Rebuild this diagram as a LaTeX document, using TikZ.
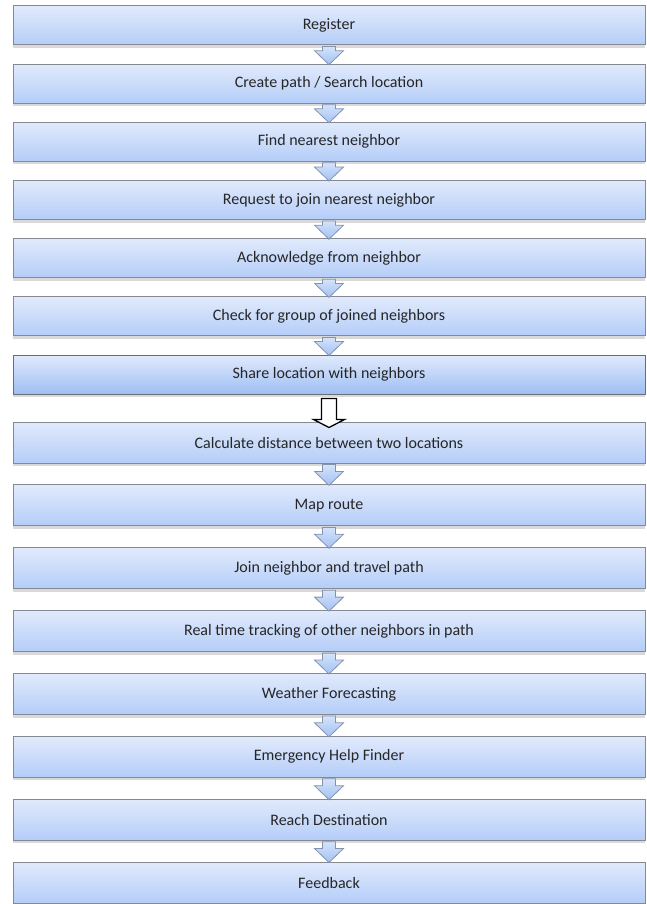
\documentclass[tikz,border=0pt]{standalone}
\usepackage{fontspec}
\setmainfont{Carlito}
\usetikzlibrary{shadows}
\definecolor{StepTop}{RGB}{225,234,252}
\definecolor{StepBottom}{RGB}{180,205,248}
\definecolor{StepDeep}{RGB}{158,190,244}
\definecolor{StepLine}{RGB}{132,137,148}
\definecolor{FlowTop}{RGB}{212,227,251}
\definecolor{FlowBottom}{RGB}{162,193,243}
\definecolor{FlowLine}{RGB}{132,146,172}

\begin{document}
\begin{tikzpicture}[x=1pt,y=-1pt]
			\useasboundingbox (0,0) rectangle (646,904);
			\tikzstyle{every node}=[draw=StepLine, line width=1pt, shape=rectangle, minimum width=632pt, minimum height=39pt, top color=StepTop, bottom color=StepBottom, text=black!85, font=\fontsize{16}{19}\selectfont, drop shadow={shadow xshift=0pt, shadow yshift=-3pt, opacity=0.3}];
			\tikzstyle{flow}=[draw=FlowLine, line width=0.8pt, top color=FlowTop, bottom color=FlowBottom];
			\tikzstyle{split}=[draw=black, line width=1.3pt, fill=white];
			% first part of the flow
			\node (register) at (329, 25.5) {Register};
			\node (path) at (329, 83.7) {Create path / Search location};
			\node (nearest) at (329, 141.8) {Find nearest neighbor};
			\node (request) at (329, 200.0) {Request to join nearest neighbor};
			\node (ack) at (329, 258.2) {Acknowledge from neighbor};
			\node (group) at (329, 316.4) {Check for group of joined neighbors};
			\node [bottom color=StepDeep, draw=StepLine!80!black] (share) at (329, 374.5) {Share location with neighbors};
			% second part of the flow
			\node [minimum height=41pt] (distance) at (329, 442.5) {Calculate distance between two locations};
			\node [minimum height=41pt] (route) at (329, 505.4) {Map route};
			\node [minimum height=41pt] (travel) at (329, 568.2) {Join neighbor and travel path};
			\node [minimum height=41pt] (tracking) at (329, 631.1) {Real time tracking of other neighbors in path};
			\node [minimum height=41pt] (weather) at (329, 694.0) {Weather Forecasting};
			\node [minimum height=41pt] (help) at (329, 756.8) {Emergency Help Finder};
			\node [minimum height=41pt] (reach) at (329, 819.7) {Reach Destination};
			\node [minimum height=41pt] (feedback) at (329, 882.5) {Feedback};
			% arrows
			\draw[flow] ([xshift=-6.5pt,yshift=-1pt]register.south) -- ([xshift=-6.5pt,yshift=13pt]path.north) -- ([xshift=-14.5pt,yshift=13pt]path.north) -- ([yshift=-1pt]path.north) -- ([xshift=14.5pt,yshift=13pt]path.north) -- ([xshift=6.5pt,yshift=13pt]path.north) -- ([xshift=6.5pt,yshift=-1pt]register.south) -- cycle;
			\draw[flow] ([xshift=-6.5pt,yshift=-1pt]path.south) -- ([xshift=-6.5pt,yshift=13pt]nearest.north) -- ([xshift=-14.5pt,yshift=13pt]nearest.north) -- ([yshift=-1pt]nearest.north) -- ([xshift=14.5pt,yshift=13pt]nearest.north) -- ([xshift=6.5pt,yshift=13pt]nearest.north) -- ([xshift=6.5pt,yshift=-1pt]path.south) -- cycle;
			\draw[flow] ([xshift=-6.5pt,yshift=-1pt]nearest.south) -- ([xshift=-6.5pt,yshift=13pt]request.north) -- ([xshift=-14.5pt,yshift=13pt]request.north) -- ([yshift=-1pt]request.north) -- ([xshift=14.5pt,yshift=13pt]request.north) -- ([xshift=6.5pt,yshift=13pt]request.north) -- ([xshift=6.5pt,yshift=-1pt]nearest.south) -- cycle;
			\draw[flow] ([xshift=-6.5pt,yshift=-1pt]request.south) -- ([xshift=-6.5pt,yshift=13pt]ack.north) -- ([xshift=-14.5pt,yshift=13pt]ack.north) -- ([yshift=-1pt]ack.north) -- ([xshift=14.5pt,yshift=13pt]ack.north) -- ([xshift=6.5pt,yshift=13pt]ack.north) -- ([xshift=6.5pt,yshift=-1pt]request.south) -- cycle;
			\draw[flow] ([xshift=-6.5pt,yshift=-1pt]ack.south) -- ([xshift=-6.5pt,yshift=13pt]group.north) -- ([xshift=-14.5pt,yshift=13pt]group.north) -- ([yshift=-1pt]group.north) -- ([xshift=14.5pt,yshift=13pt]group.north) -- ([xshift=6.5pt,yshift=13pt]group.north) -- ([xshift=6.5pt,yshift=-1pt]ack.south) -- cycle;
			\draw[flow] ([xshift=-6.5pt,yshift=-1pt]group.south) -- ([xshift=-6.5pt,yshift=13pt]share.north) -- ([xshift=-14.5pt,yshift=13pt]share.north) -- ([yshift=-1pt]share.north) -- ([xshift=14.5pt,yshift=13pt]share.north) -- ([xshift=6.5pt,yshift=13pt]share.north) -- ([xshift=6.5pt,yshift=-1pt]group.south) -- cycle;
			\draw[split] ([xshift=-7.5pt,yshift=-4pt]share.south) -- ([xshift=-7.5pt,yshift=2pt]distance.north) -- ([xshift=-15.5pt,yshift=2pt]distance.north) -- ([yshift=-6pt]distance.north) -- ([xshift=15.5pt,yshift=2pt]distance.north) -- ([xshift=7.5pt,yshift=2pt]distance.north) -- ([xshift=7.5pt,yshift=-4pt]share.south) -- cycle;
			\draw[flow] ([xshift=-6.5pt,yshift=-1pt]distance.south) -- ([xshift=-6.5pt,yshift=13pt]route.north) -- ([xshift=-14.5pt,yshift=13pt]route.north) -- ([yshift=-1pt]route.north) -- ([xshift=14.5pt,yshift=13pt]route.north) -- ([xshift=6.5pt,yshift=13pt]route.north) -- ([xshift=6.5pt,yshift=-1pt]distance.south) -- cycle;
			\draw[flow] ([xshift=-6.5pt,yshift=-1pt]route.south) -- ([xshift=-6.5pt,yshift=13pt]travel.north) -- ([xshift=-14.5pt,yshift=13pt]travel.north) -- ([yshift=-1pt]travel.north) -- ([xshift=14.5pt,yshift=13pt]travel.north) -- ([xshift=6.5pt,yshift=13pt]travel.north) -- ([xshift=6.5pt,yshift=-1pt]route.south) -- cycle;
			\draw[flow] ([xshift=-6.5pt,yshift=-1pt]travel.south) -- ([xshift=-6.5pt,yshift=13pt]tracking.north) -- ([xshift=-14.5pt,yshift=13pt]tracking.north) -- ([yshift=-1pt]tracking.north) -- ([xshift=14.5pt,yshift=13pt]tracking.north) -- ([xshift=6.5pt,yshift=13pt]tracking.north) -- ([xshift=6.5pt,yshift=-1pt]travel.south) -- cycle;
			\draw[flow] ([xshift=-6.5pt,yshift=-1pt]tracking.south) -- ([xshift=-6.5pt,yshift=13pt]weather.north) -- ([xshift=-14.5pt,yshift=13pt]weather.north) -- ([yshift=-1pt]weather.north) -- ([xshift=14.5pt,yshift=13pt]weather.north) -- ([xshift=6.5pt,yshift=13pt]weather.north) -- ([xshift=6.5pt,yshift=-1pt]tracking.south) -- cycle;
			\draw[flow] ([xshift=-6.5pt,yshift=-1pt]weather.south) -- ([xshift=-6.5pt,yshift=13pt]help.north) -- ([xshift=-14.5pt,yshift=13pt]help.north) -- ([yshift=-1pt]help.north) -- ([xshift=14.5pt,yshift=13pt]help.north) -- ([xshift=6.5pt,yshift=13pt]help.north) -- ([xshift=6.5pt,yshift=-1pt]weather.south) -- cycle;
			\draw[flow] ([xshift=-6.5pt,yshift=-1pt]help.south) -- ([xshift=-6.5pt,yshift=13pt]reach.north) -- ([xshift=-14.5pt,yshift=13pt]reach.north) -- ([yshift=-1pt]reach.north) -- ([xshift=14.5pt,yshift=13pt]reach.north) -- ([xshift=6.5pt,yshift=13pt]reach.north) -- ([xshift=6.5pt,yshift=-1pt]help.south) -- cycle;
			\draw[flow] ([xshift=-6.5pt,yshift=-1pt]reach.south) -- ([xshift=-6.5pt,yshift=13pt]feedback.north) -- ([xshift=-14.5pt,yshift=13pt]feedback.north) -- ([yshift=-1pt]feedback.north) -- ([xshift=14.5pt,yshift=13pt]feedback.north) -- ([xshift=6.5pt,yshift=13pt]feedback.north) -- ([xshift=6.5pt,yshift=-1pt]reach.south) -- cycle;
		\end{tikzpicture}
\end{document}
